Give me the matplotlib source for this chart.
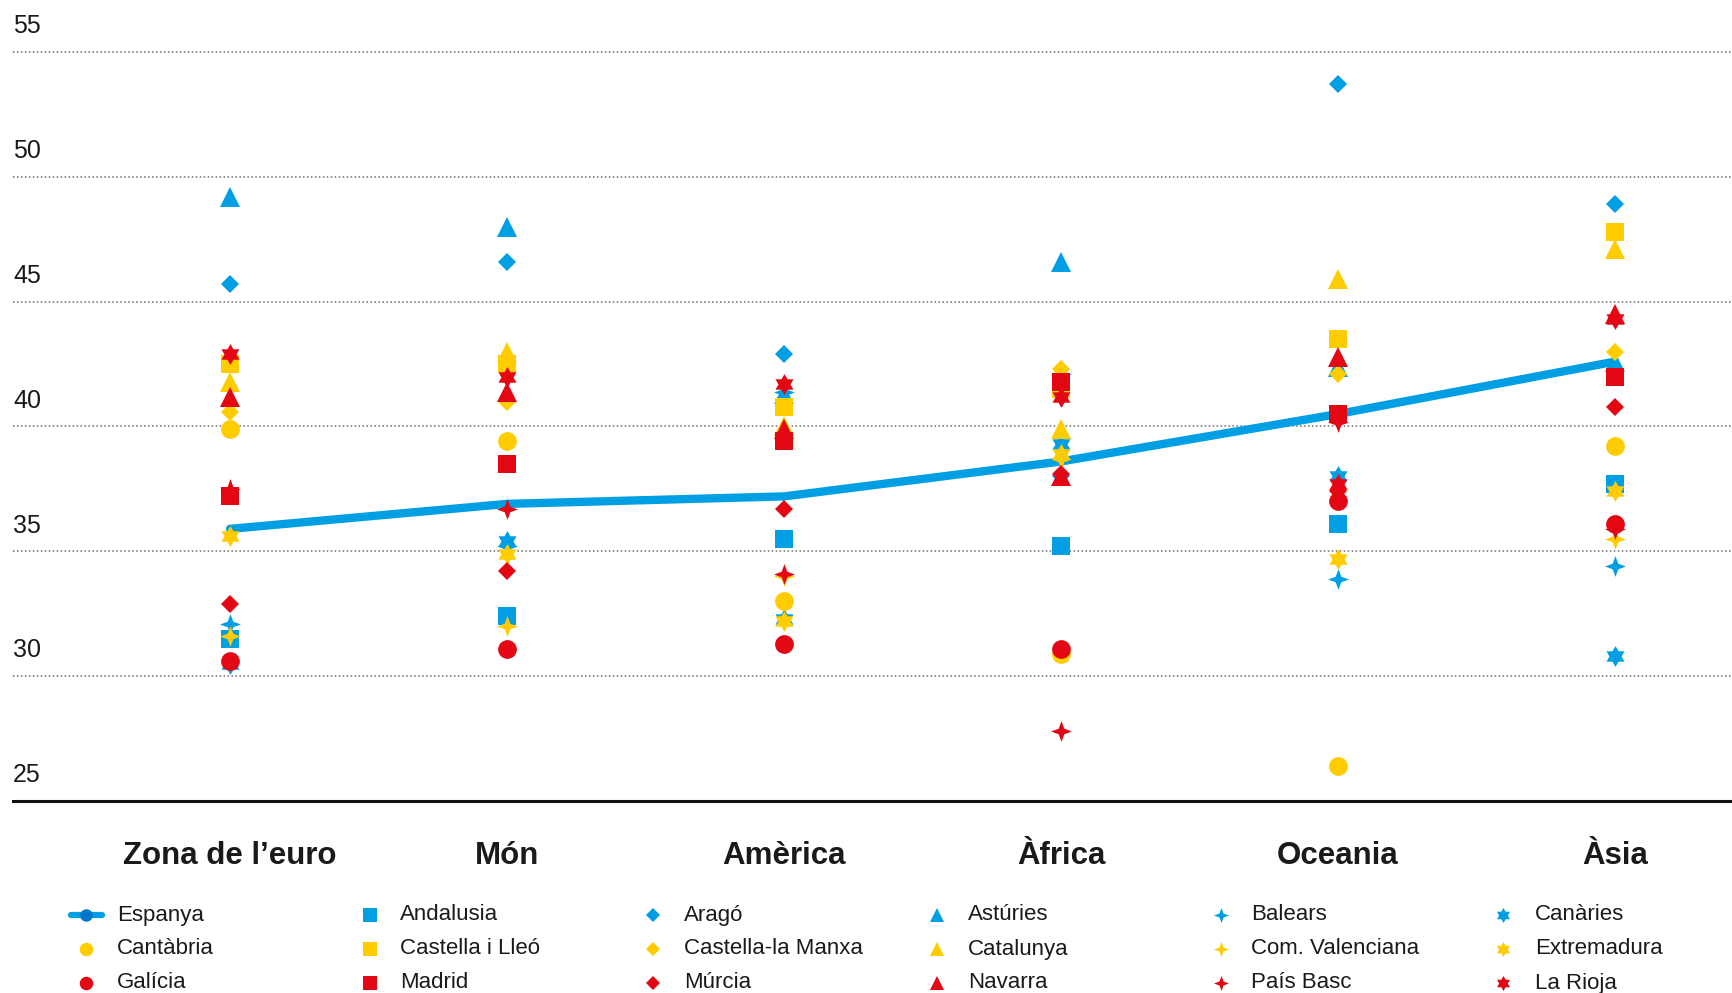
import numpy as np
import matplotlib
matplotlib.use("Agg")
import matplotlib.pyplot as plt
from matplotlib.lines import Line2D
import matplotlib.transforms as mtransforms

# ---------------- data ----------------
categories = ["Zona de l\u2019euro", "Món", "Amèrica", "Àfrica", "Oceania", "Àsia"]
yticks = [25, 30, 35, 40, 45, 50, 55]

espanya = [35.9, 36.9, 37.2, 38.6, 40.5, 42.6]

andalusia = [31.5, 32.4, 35.5, 35.2, 36.1, 37.7]
arago = [45.7, 46.6, 42.9, 38.0, 53.7, 48.9]
asturies = [49.2, 48.0, 41.3, 46.6, 42.4, 42.6]
balears = [32.1, 35.2, 41.4, 42.1, 33.9, 34.4]
canaries = [30.5, 35.4, 32.3, 39.3, 38.0, 30.8]
cantabria = [39.9, 39.4, 33.0, 30.9, 26.4, 39.2]
castella_lleo = [42.5, 42.5, 40.8, 41.5, 43.5, 47.8]
castella_manxa = [40.6, 41.0, 40.8, 42.3, 42.1, 43.0]
catalunya = [41.8, 43.0, 40.0, 39.9, 45.9, 47.1]
com_valenciana = [31.6, 32.0, 34.0, 38.7, 37.5, 35.5]
extremadura = [35.6, 34.9, 32.2, 38.9, 34.7, 37.4]
galicia = [30.6, 31.1, 31.3, 31.1, 37.0, 36.1]
madrid = [37.2, 38.5, 39.4, 41.8, 40.5, 42.0]
murcia = [32.9, 34.2, 36.7, 38.1, 37.4, 40.8]
navarra = [41.2, 41.4, 39.9, 38.0, 42.8, 44.5]
pais_basc = [37.5, 36.7, 34.1, 27.8, 40.2, 35.9]
la_rioja = [42.9, 42.0, 41.7, 41.2, 37.7, 44.3]

# ---------------- styles ----------------
BLUE = "#009FE3"
YELLOW = "#FFCC00"
RED = "#E30613"
TXT = "#1a1a1a"


def star_path(n, inner):
    ang = np.pi / 2 + np.arange(2 * n) * np.pi / n
    rad = np.where(np.arange(2 * n) % 2 == 0, 1.0, inner)
    v = np.column_stack([rad * np.cos(ang), rad * np.sin(ang)])
    return np.vstack([v, v[:1]])


STAR4 = star_path(4, 0.38)
STAR6 = star_path(6, 0.58)

# (name, values, color, marker, size)
regions = [
    ("Andalusia", andalusia, BLUE, "s", 13.5),
    ("Aragó", arago, BLUE, "D", 9.5),
    ("Astúries", asturies, BLUE, "^", 14),
    ("Balears", balears, BLUE, STAR4, 15),
    ("Canàries", canaries, BLUE, STAR6, 15),
    ("Cantàbria", cantabria, YELLOW, "o", 13.5),
    ("Castella i Lleó", castella_lleo, YELLOW, "s", 13.5),
    ("Castella-la Manxa", castella_manxa, YELLOW, "D", 9.5),
    ("Catalunya", catalunya, YELLOW, "^", 14),
    ("Com. Valenciana", com_valenciana, YELLOW, STAR4, 15),
    ("Extremadura", extremadura, YELLOW, STAR6, 15),
    ("Galícia", galicia, RED, "o", 13.5),
    ("Madrid", madrid, RED, "s", 13.5),
    ("Múrcia", murcia, RED, "D", 9.5),
    ("Navarra", navarra, RED, "^", 14),
    ("País Basc", pais_basc, RED, STAR4, 15),
    ("La Rioja", la_rioja, RED, STAR6, 15),
]

# legend layout: rows x columns
legend_rows = [
    ["Espanya", "Andalusia", "Aragó", "Astúries", "Balears", "Canàries"],
    ["Cantàbria", "Castella i Lleó", "Castella-la Manxa", "Catalunya", "Com. Valenciana", "Extremadura"],
    ["Galícia", "Madrid", "Múrcia", "Navarra", "País Basc", "La Rioja"],
]

plt.rcParams["font.family"] = ["Liberation Sans", "DejaVu Sans"]

W, H = 1732, 993
fig = plt.figure(figsize=(W / 100, H / 100), dpi=100)

ax_left = 13 / W
ax_bottom = 1 - 801 / H
ymax = 56.0
ax_top_px = 801 - (ymax - 25) * (801 - 52) / 30.0
ax_height = (801 - ax_top_px) / H
ax = fig.add_axes([ax_left, ax_bottom, 1 - ax_left, ax_height])

x = np.arange(len(categories))
spacing = 277.0
xmin = (13 - 230) / spacing
xmax = (W - 230) / spacing
ax.set_xlim(xmin, xmax)
ax.set_ylim(25, ymax)

for s in ax.spines.values():
    s.set_visible(False)
ax.set_xticks([])
ax.set_yticks([])

# gridlines
for t in yticks[1:]:
    ax.axhline(t, color="#6d6d6d", lw=1.1, ls=(0, (1, 1.6)), zorder=1)
ax.axhline(25, color="#111111", lw=2.2, zorder=1, clip_on=False)

# tick labels above gridlines
for t in yticks:
    ax.text(0.0, t + 0.75, str(t), transform=mtransforms.blended_transform_factory(ax.transAxes, ax.transData),
            ha="left", va="baseline", fontsize=18, color=TXT)

# Espanya line
ax.plot(x, espanya, color=BLUE, lw=6, solid_capstyle="round", zorder=2)

# region markers
for name, vals, col, mk, ms in regions:
    ax.plot(x, vals, ls="none", marker=mk, color=col, markersize=ms,
            markeredgewidth=0, zorder=3)

# category labels
tr = mtransforms.blended_transform_factory(ax.transData, fig.transFigure)
for xi, c in zip(x, categories):
    ax.text(xi, 1 - 856 / H, c, transform=tr, ha="center", va="center",
            fontsize=22.5, fontweight="bold", color=TXT)

# legend (manual grid)
lookup = {r[0]: r for r in regions}
marker_x = [86, 370, 653, 937, 1221, 1503]
text_x = [117, 400, 684, 968, 1251, 1535]
row_y = [915, 949, 983]
for ri, row in enumerate(legend_rows):
    for ci, name in enumerate(row):
        yf = 1 - row_y[ri] / H
        if name == "Espanya":
            fig.add_artist(Line2D([71 / W, 102 / W], [yf, yf], transform=fig.transFigure,
                                  color=BLUE, lw=4.5, solid_capstyle="round"))
            fig.add_artist(Line2D([86 / W], [yf], transform=fig.transFigure, ls="none",
                                  marker="o", color="#0077C8", markersize=9, markeredgewidth=0))
        else:
            _, _, col, mk, ms = lookup[name]
            fig.add_artist(Line2D([marker_x[ci] / W], [yf], transform=fig.transFigure, ls="none",
                                  marker=mk, color=col, markersize=ms * 0.72, markeredgewidth=0))
        fig.text(text_x[ci] / W, yf, name, ha="left", va="center", fontsize=16, color=TXT)

fig.savefig("out.png", dpi=100)
